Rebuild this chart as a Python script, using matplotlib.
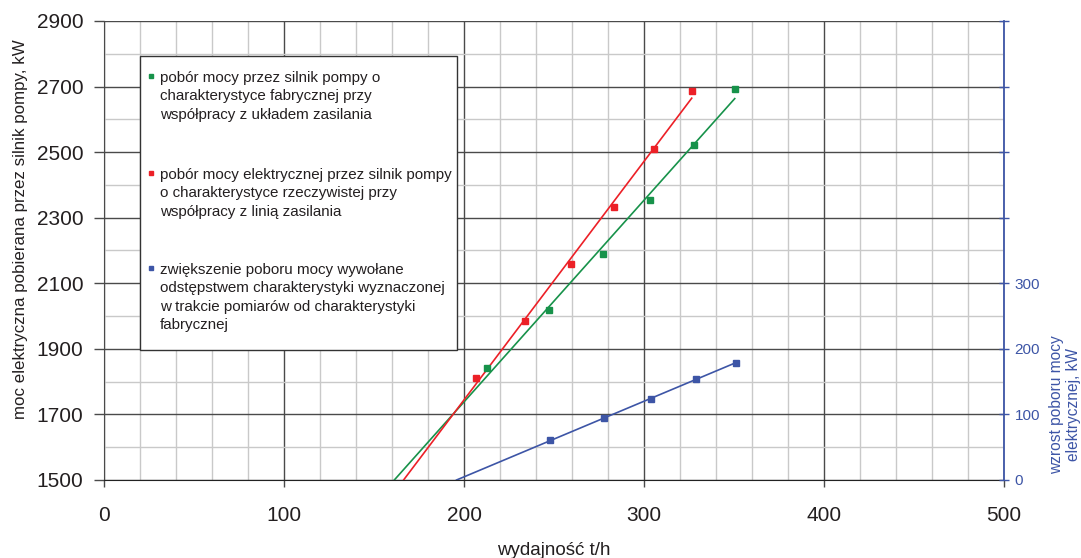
#!/usr/bin/env python3
"""Pump motor power draw vs. flow rate, with a secondary axis for the extra draw."""

import numpy as np
import matplotlib
matplotlib.use("Agg")
import matplotlib.pyplot as plt
from matplotlib.patches import Rectangle
from matplotlib.ticker import MultipleLocator

plt.rcParams["font.family"] = ["Liberation Sans", "DejaVu Sans"]

# --- data ---
flow_factory = [212.6, 247.1, 277.2, 303.3, 328.0, 350.4]
power_factory = [1842, 2020, 2188, 2354, 2523, 2692]

flow_real = [206.5, 233.9, 259.4, 283.3, 305.6, 326.5]
power_real = [1812, 1986, 2159, 2332, 2510, 2687]

flow_extra = [248.0, 278.0, 304.0, 328.7, 351.0]
power_extra = [60.5, 94.5, 124.0, 153.6, 179.0]

left_ticks = [1500, 1700, 1900, 2100, 2300, 2500, 2700, 2900]
right_ticks = [0, 100, 200, 300, 400, 500, 600, 700]
right_tick_labels = ["0", "100", "200", "300", "", "", "", ""]

legend_labels = [
    "pobór mocy przez silnik pompy o\ncharakterystyce fabrycznej przy\nwspółpracy z układem zasilania",
    "pobór mocy elektrycznej przez silnik pompy\no charakterystyce rzeczywistej przy\nwspółpracy z linią zasilania",
    "zwiększenie poboru mocy wywołane\nodstępstwem charakterystyki wyznaczonej\nw trakcie pomiarów od charakterystyki\nfabrycznej",
]

GREEN = "#17924a"
RED = "#ec2027"
BLUE = "#3d55a6"
TEXT = "#231f20"


def trend(ax, x, y, floor, color):
    """Least-squares line from where it meets the axis floor up to the last point."""
    k, b = np.polyfit(x, y, 1)
    x0 = (floor - b) / k
    xs = np.array([x0, max(x)])
    ax.plot(xs, k * xs + b, color=color, lw=1.2, zorder=4)


fig = plt.figure(figsize=(10.81, 5.58), dpi=100)
ax = fig.add_axes([0.0962, 0.1398, 0.8326, 0.8226])
ax2 = ax.twinx()

ax.set_xlim(0, 500)
ax.set_ylim(1500, 2900)
ax2.set_ylim(0, 700)

ax.xaxis.set_major_locator(MultipleLocator(100))
ax.xaxis.set_minor_locator(MultipleLocator(20))
ax.set_yticks(left_ticks)
ax.yaxis.set_minor_locator(MultipleLocator(100))
ax.grid(which="minor", color="#c9c9c9", lw=1.0)
ax.grid(which="major", color="#4a4a4a", lw=1.0)
ax.set_axisbelow(True)

ax.tick_params(which="major", axis="y", length=7, width=1, color="#4a4a4a",
               labelsize=15, labelcolor=TEXT, pad=8)
ax.tick_params(which="major", axis="x", length=5, width=1, color="#4a4a4a",
               labelsize=15, labelcolor=TEXT, pad=14)
ax.tick_params(which="minor", length=0)

for side in ("top", "right"):
    ax.spines[side].set_visible(False)
ax2.spines["top"].set_visible(False)
ax2.spines["left"].set_visible(False)
ax2.spines["bottom"].set_visible(False)
ax.spines["left"].set_color("#4a4a4a")
ax.spines["bottom"].set_color("#222222")
ax2.spines["right"].set_color(BLUE)
ax2.spines["right"].set_linewidth(1.3)

ax2.set_yticks(right_ticks)
ax2.set_yticklabels(right_tick_labels)
ax2.tick_params(axis="y", direction="inout", length=7, width=1, color=BLUE,
                labelsize=11, labelcolor=BLUE, pad=4)

# --- series ---
ax.plot(flow_factory, power_factory, "s", ms=4, color=GREEN, zorder=5)
ax.plot(flow_real, power_real, "s", ms=4, color=RED, zorder=5)
trend(ax, flow_factory, power_factory, 1500, GREEN)
trend(ax, flow_real, power_real, 1500, RED)

ax2.plot(flow_extra, power_extra, "s", ms=4, color=BLUE, zorder=5)
trend(ax2, flow_extra, power_extra, 0, BLUE)

# --- labels ---
ax.set_xlabel("wydajność t/h", fontsize=13.5, color=TEXT)
ax.xaxis.set_label_coords(0.5, -0.135)
ax.set_ylabel("moc elektryczna pobierana przez silnik pompy, kW", fontsize=12.2, color=TEXT)
ax.yaxis.set_label_coords(-0.084, 0.547)
fig.text(0.985, 0.275, "wzrost poboru mocy\nelektrycznej, kW", rotation=90,
         ha="center", va="center", multialignment="center",
         fontsize=11.2, color=BLUE)

# --- hand-built legend box ---
ax2.add_patch(Rectangle((0.04, 0.283), 0.352, 0.641, transform=ax.transAxes,
                        facecolor="white", edgecolor="#333333", lw=1.0, zorder=6))
entry_y = [0.880, 0.669, 0.462]
for yy, label, color in zip(entry_y, legend_labels, [GREEN, RED, BLUE]):
    ax2.plot([0.052], [yy], "s", ms=2.6, color=color, transform=ax.transAxes,
             zorder=7, clip_on=False)
    ax2.text(0.062, yy + 0.011, label, transform=ax.transAxes, ha="left", va="top",
             fontsize=10.9, color=TEXT, linespacing=1.4, zorder=7)

fig.savefig("out.png", dpi=100)
